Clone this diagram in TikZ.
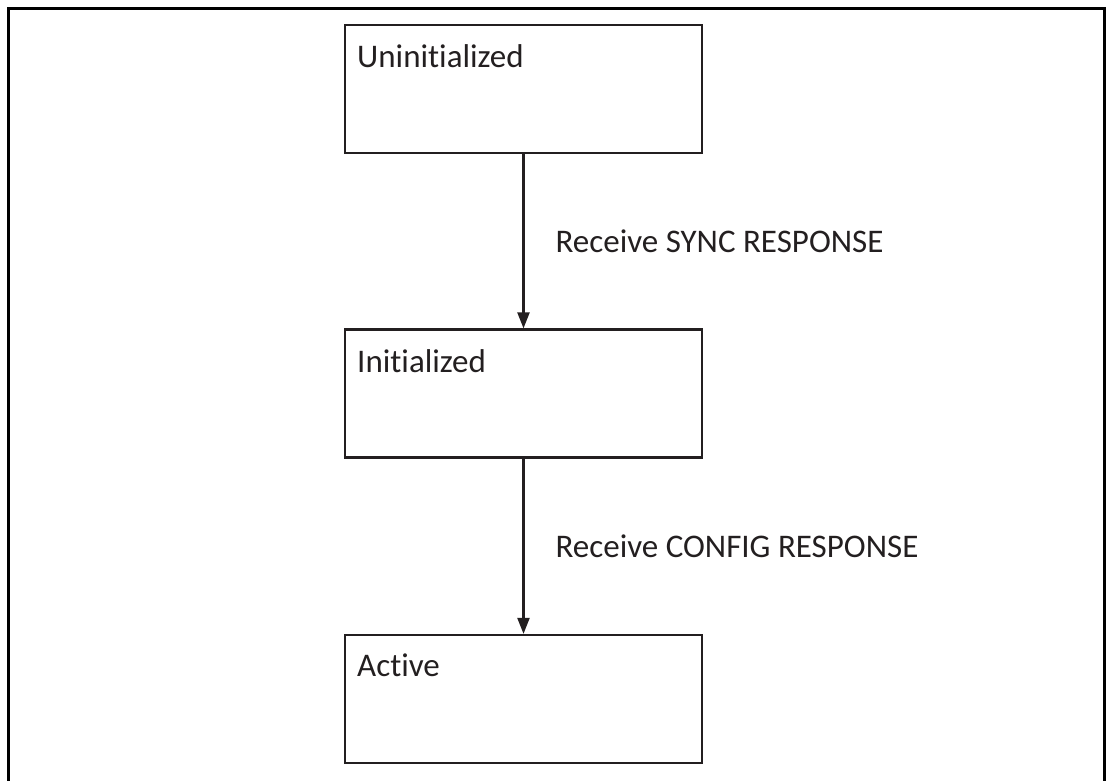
\documentclass[tikz,border=0pt]{standalone}
\usepackage{fontspec}
\setmainfont{Carlito}[Ligatures={NoCommon}]
\usetikzlibrary{arrows.meta}
\definecolor{ink}{HTML}{231F20}
\begin{document}
\begin{tikzpicture}[x=1pt,y=-1pt,
  state/.style={draw=ink,line width=2.2pt,minimum width=357pt,minimum height=128pt,inner sep=0pt},
  lbl/.style={font=\fontsize{33}{40}\selectfont,text=ink,anchor=base west,inner sep=0pt},
  conn/.style={draw=ink,line width=2.2pt,-{Triangle[length=16pt,width=12pt]}}]
\useasboundingbox (0,0) rectangle (1112,780);
\draw[line width=3pt] (8,790) -- (8,8) -- (1104,8) -- (1104,790);
\node[state] (u) at (523.5,89) {};
\node[state] (i) at (523.5,393.5) {};
\node[state] (a) at (523.5,699) {};
\node[lbl] (ut) at (357,67) {Uninitialized};
\node[lbl] (it) at (357,372) {Initialized};
\node[lbl] (at) at (357,676) {Active};
\draw[conn] (u.south) -- node[lbl,pos=0.5,anchor=west,xshift=31pt] (l1) {Receive SYNC RESPONSE} (i.north);
\draw[conn] (i.south) -- node[lbl,pos=0.5,anchor=west,xshift=31pt] (l2) {Receive CONFIG RESPONSE} (a.north);
\end{tikzpicture}
\end{document}
